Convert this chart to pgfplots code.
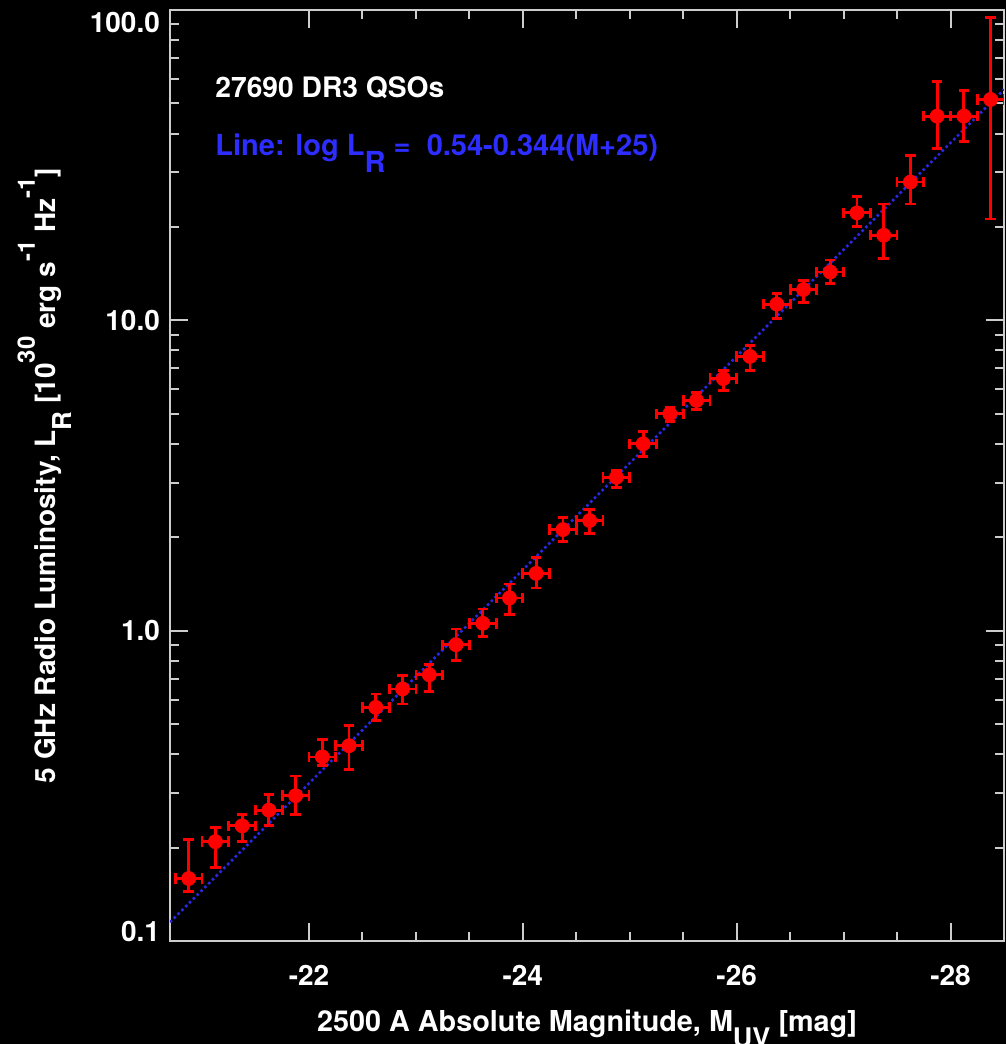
\documentclass[border=0pt]{standalone}
\usepackage{pgfplots}
\pgfplotsset{compat=1.18}
\usepackage{pgfplotstable}
\usepackage{fontspec}
\setmainfont{TeX Gyre Heros}
\definecolor{axgray}{RGB}{205,205,205}
\definecolor{txtblue}{RGB}{45,45,255}
\definecolor{lineblue}{RGB}{40,40,225}

\pgfplotstableread{
M y ep em
-20.875 0.159 0.053 0.015
-21.125 0.209 0.023 0.036
-21.375 0.235 0.021 0.026
-21.625 0.264 0.032 0.029
-21.875 0.294 0.046 0.038
-22.125 0.392 0.053 0.025
-22.375 0.426 0.068 0.070
-22.625 0.566 0.059 0.054
-22.875 0.649 0.067 0.069
-23.125 0.721 0.056 0.084
-23.375 0.901 0.111 0.101
-23.625 1.056 0.119 0.100
-23.875 1.275 0.139 0.149
-24.125 1.530 0.194 0.157
-24.375 2.117 0.192 0.176
-24.625 2.264 0.190 0.210
-24.875 3.12 0.16 0.22
-25.125 4.00 0.39 0.36
-25.375 5.00 0.25 0.27
-25.625 5.52 0.34 0.37
-25.875 6.49 0.40 0.54
-26.125 7.65 0.63 0.76
-26.375 11.27 0.93 1.15
-26.625 12.57 0.90 1.14
-26.875 14.32 1.32 1.21
-27.125 22.2 2.8 2.1
-27.375 18.8 4.9 3.0
-27.625 27.9 6.1 4.2
-27.875 45.5 13.5 9.7
-28.125 45.5 9.4 7.9
-28.375 51.5 43.0 30.3
}\datatable

\begin{document}
\begin{tikzpicture}
\fill[black] (-85pt,-51.5pt) rectangle (418pt,470.5pt);
\begin{axis}[
  at={(0,0)}, anchor=south west,
  scale only axis, width=417pt, height=465.5pt,
  x dir=reverse, xmin=-28.5, xmax=-20.7,
  ymode=log, ymin=0.1, ymax=100,
  axis line style={axgray, line width=1pt},
  every tick/.style={axgray, line width=1pt},
  major tick length=9pt, minor tick length=4.5pt,
  tick pos=both,
  xtick={-22,-24,-26,-28}, xticklabels={-22,-24,-26,-28},
  minor x tick num=3,
  ytick={0.1,1,10,100},
  yticklabels={\raisebox{0pt}[0pt][0pt]{0.1},\raisebox{-5pt}[0pt][0pt]{1.0},\raisebox{-5pt}[0pt][0pt]{10.0},\raisebox{-11pt}[0pt][0pt]{100.0}},
  tick label style={white, font=\bfseries\fontsize{14}{16}\selectfont},
  xticklabel style={yshift=-8.5pt},
  yticklabel style={anchor=east, xshift=-1.5pt},
  xlabel={2500 A Absolute Magnitude, M\raisebox{-0.55em}{\fontsize{13.5}{14}\selectfont UV} [mag]},
  ylabel={5 GHz Radio Luminosity, L\raisebox{-0.55em}{\fontsize{13}{14}\selectfont R} [10\raisebox{0.75em}{\fontsize{12}{14}\selectfont 30} erg s\raisebox{0.75em}{\fontsize{12}{14}\selectfont -1} Hz\raisebox{0.75em}{\fontsize{12}{14}\selectfont -1}]},
  label style={white, font=\bfseries\fontsize{14}{16}\selectfont},
  xlabel style={font=\bfseries\fontsize{14.4}{16}\selectfont, at={(axis description cs:0.5,-0.067)}, anchor=north},
  ylabel style={at={(axis description cs:-0.11,0.5)}, anchor=south},
  clip=true,
]
\addplot[lineblue, line width=1.3pt, dash pattern=on 1.3pt off 1.4pt] coordinates {(-20.7,0.1150) (-28.5,55.46)};
\addplot[only marks, red, mark=*, mark size=3.5pt,
  error bars/.cd, x dir=both, x fixed=0.125, y dir=both, y explicit,
  error bar style={red, line width=1.4pt},
  error mark=-,
  error mark options={red, rotate=90, line width=1.4pt, mark size=2.6pt}]
  table[x=M, y=y, y error plus=ep, y error minus=em] {\datatable};
\node[anchor=base west, white, font=\bfseries\fontsize{14.1}{16}\selectfont, inner sep=0pt] at (rel axis cs:0.054,0.9055) {27690 DR3 QSOs};
\node[anchor=base west, txtblue, font=\bfseries\fontsize{14.5}{16}\selectfont, inner sep=0pt] at (rel axis cs:0.054,0.844) {Line: log L\raisebox{-0.6em}{\fontsize{14.5}{16}\selectfont R} =\ \ 0.54-0.344(M+25)};
\end{axis}
\pgfresetboundingbox
\path[use as bounding box] (-85pt,-51.5pt) rectangle (418pt,470.5pt);
\end{tikzpicture}
\end{document}
